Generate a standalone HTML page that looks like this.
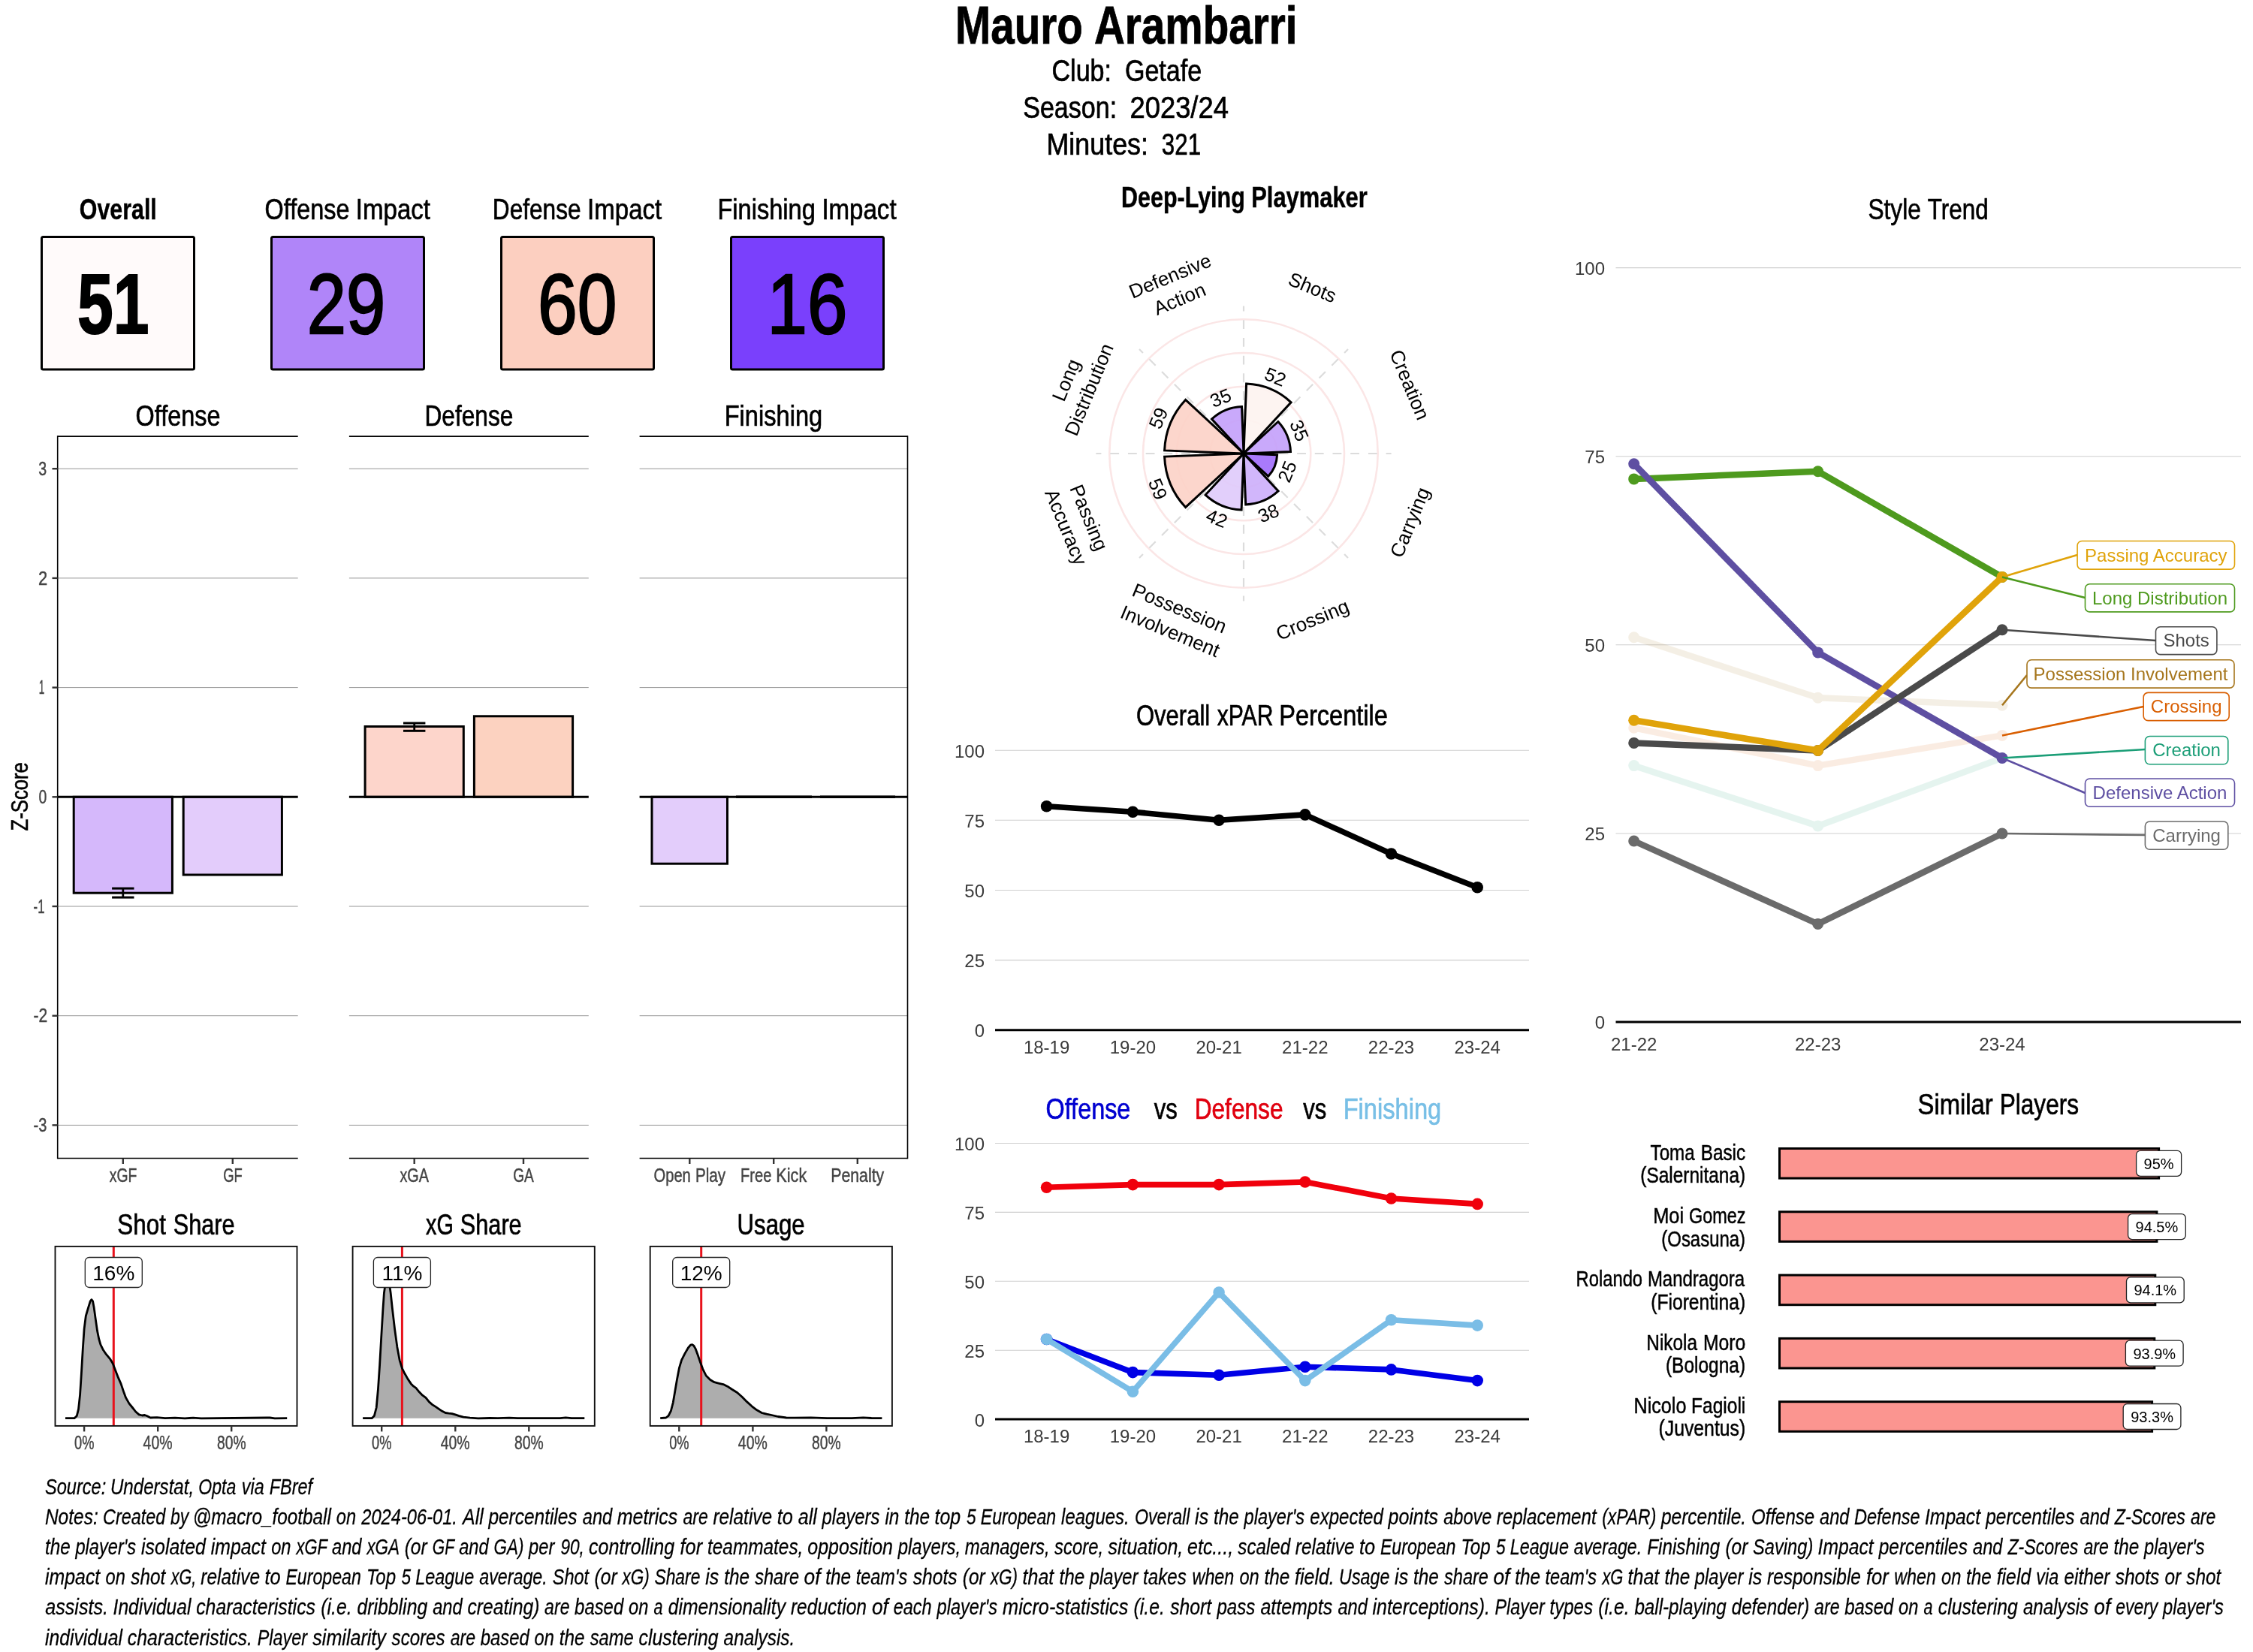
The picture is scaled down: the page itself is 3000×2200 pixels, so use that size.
<!DOCTYPE html><html><head><meta charset="utf-8"><title>Mauro Arambarri</title>
<style>html,body{margin:0;padding:0;background:#fff}svg{display:block;will-change:transform}text{font-family:"Liberation Sans",sans-serif}</style></head><body>
<svg width="3000" height="2200" viewBox="0 0 3000 2200" font-family="Liberation Sans, sans-serif">
<rect width="3000" height="2200" fill="#fff"/>
<text y="58.4" font-size="69.89" fill="#000" font-weight="bold" stroke="#000" stroke-width="0.81" ><tspan x="1272.0" textLength="169.9" lengthAdjust="spacingAndGlyphs">Mauro</tspan> <tspan x="1456.9" textLength="270.6" lengthAdjust="spacingAndGlyphs">Arambarri</tspan></text>
<text y="107.8" font-size="41.08" fill="#000" stroke="#000" stroke-width="0.71" ><tspan x="1400.5" textLength="79.5" lengthAdjust="spacingAndGlyphs">Club:</tspan> <tspan x="1497.9" textLength="102.3" lengthAdjust="spacingAndGlyphs">Getafe</tspan></text>
<text y="156.5" font-size="41.08" fill="#000" stroke="#000" stroke-width="0.71" ><tspan x="1362.2" textLength="124.9" lengthAdjust="spacingAndGlyphs">Season:</tspan> <tspan x="1504.4" textLength="131.6" lengthAdjust="spacingAndGlyphs">2023/24</tspan></text>
<text y="206.0" font-size="41.08" fill="#000" stroke="#000" stroke-width="0.71" ><tspan x="1393.5" textLength="135.5" lengthAdjust="spacingAndGlyphs">Minutes:</tspan> <tspan x="1546.8" textLength="52.3" lengthAdjust="spacingAndGlyphs">321</tspan></text>
<text y="292.0" font-size="38.14" fill="#000" font-weight="bold" stroke="#000" stroke-width="0.44" ><tspan x="105.8" textLength="103.0" lengthAdjust="spacingAndGlyphs">Overall</tspan></text>
<rect x="55.5" y="315.5" width="203.0" height="176.5" fill="#fffafa" stroke="#000" stroke-width="3" rx="2" stroke-linejoin="round"/>
<text x="103.1" y="443.6" font-size="113.50" fill="#000" textLength="95.5" lengthAdjust="spacingAndGlyphs" font-weight="bold"  stroke="#000" stroke-width="2.0">51</text>
<text y="292.0" font-size="38.14" fill="#000" stroke="#000" stroke-width="0.66" ><tspan x="352.6" textLength="112.9" lengthAdjust="spacingAndGlyphs">Offense</tspan> <tspan x="473.8" textLength="99.2" lengthAdjust="spacingAndGlyphs">Impact</tspan></text>
<rect x="361.5" y="315.5" width="203.0" height="176.5" fill="#b085f9" stroke="#000" stroke-width="3" rx="2" stroke-linejoin="round"/>
<text x="408.8" y="443.6" font-size="113.50" fill="#000" textLength="104.4" lengthAdjust="spacingAndGlyphs"  stroke="#000" stroke-width="2.4">29</text>
<text y="292.0" font-size="38.14" fill="#000" stroke="#000" stroke-width="0.66" ><tspan x="655.8" textLength="117.8" lengthAdjust="spacingAndGlyphs">Defense</tspan> <tspan x="782.1" textLength="99.2" lengthAdjust="spacingAndGlyphs">Impact</tspan></text>
<rect x="667.5" y="315.5" width="203.0" height="176.5" fill="#fccfc0" stroke="#000" stroke-width="3" rx="2" stroke-linejoin="round"/>
<text x="716.1" y="443.6" font-size="113.50" fill="#000" textLength="105.4" lengthAdjust="spacingAndGlyphs"  stroke="#000" stroke-width="2.4">60</text>
<text y="292.0" font-size="38.14" fill="#000" stroke="#000" stroke-width="0.66" ><tspan x="955.4" textLength="130.5" lengthAdjust="spacingAndGlyphs">Finishing</tspan> <tspan x="1094.4" textLength="99.2" lengthAdjust="spacingAndGlyphs">Impact</tspan></text>
<rect x="973.5" y="315.5" width="203.0" height="176.5" fill="#7a40fc" stroke="#000" stroke-width="3" rx="2" stroke-linejoin="round"/>
<text x="1021.5" y="443.6" font-size="113.50" fill="#000" textLength="106.8" lengthAdjust="spacingAndGlyphs"  stroke="#000" stroke-width="2.4">16</text>
<text y="567.0" font-size="38.14" fill="#000" stroke="#000" stroke-width="0.66" ><tspan x="180.6" textLength="112.9" lengthAdjust="spacingAndGlyphs">Offense</tspan></text>
<line x1="76.7" y1="624.2" x2="396.7" y2="624.2" stroke="#969696" stroke-width="1.0" />
<line x1="76.7" y1="769.9" x2="396.7" y2="769.9" stroke="#969696" stroke-width="1.0" />
<line x1="76.7" y1="915.6" x2="396.7" y2="915.6" stroke="#969696" stroke-width="1.0" />
<line x1="76.7" y1="1207.0" x2="396.7" y2="1207.0" stroke="#969696" stroke-width="1.0" />
<line x1="76.7" y1="1352.7" x2="396.7" y2="1352.7" stroke="#969696" stroke-width="1.0" />
<line x1="76.7" y1="1498.4" x2="396.7" y2="1498.4" stroke="#969696" stroke-width="1.0" />
<line x1="76.7" y1="581.1" x2="396.7" y2="581.1" stroke="#000" stroke-width="1.6" />
<line x1="76.7" y1="1542.5" x2="396.7" y2="1542.5" stroke="#000" stroke-width="1.6" />
<text y="567.0" font-size="38.14" fill="#000" stroke="#000" stroke-width="0.66" ><tspan x="565.5" textLength="117.8" lengthAdjust="spacingAndGlyphs">Defense</tspan></text>
<line x1="464.9" y1="624.2" x2="783.8" y2="624.2" stroke="#969696" stroke-width="1.0" />
<line x1="464.9" y1="769.9" x2="783.8" y2="769.9" stroke="#969696" stroke-width="1.0" />
<line x1="464.9" y1="915.6" x2="783.8" y2="915.6" stroke="#969696" stroke-width="1.0" />
<line x1="464.9" y1="1207.0" x2="783.8" y2="1207.0" stroke="#969696" stroke-width="1.0" />
<line x1="464.9" y1="1352.7" x2="783.8" y2="1352.7" stroke="#969696" stroke-width="1.0" />
<line x1="464.9" y1="1498.4" x2="783.8" y2="1498.4" stroke="#969696" stroke-width="1.0" />
<line x1="464.9" y1="581.1" x2="783.8" y2="581.1" stroke="#000" stroke-width="1.6" />
<line x1="464.9" y1="1542.5" x2="783.8" y2="1542.5" stroke="#000" stroke-width="1.6" />
<text y="567.0" font-size="38.14" fill="#000" stroke="#000" stroke-width="0.66" ><tspan x="964.7" textLength="130.5" lengthAdjust="spacingAndGlyphs">Finishing</tspan></text>
<line x1="851.6" y1="624.2" x2="1208.5" y2="624.2" stroke="#969696" stroke-width="1.0" />
<line x1="851.6" y1="769.9" x2="1208.5" y2="769.9" stroke="#969696" stroke-width="1.0" />
<line x1="851.6" y1="915.6" x2="1208.5" y2="915.6" stroke="#969696" stroke-width="1.0" />
<line x1="851.6" y1="1207.0" x2="1208.5" y2="1207.0" stroke="#969696" stroke-width="1.0" />
<line x1="851.6" y1="1352.7" x2="1208.5" y2="1352.7" stroke="#969696" stroke-width="1.0" />
<line x1="851.6" y1="1498.4" x2="1208.5" y2="1498.4" stroke="#969696" stroke-width="1.0" />
<line x1="851.6" y1="581.1" x2="1208.5" y2="581.1" stroke="#000" stroke-width="1.6" />
<line x1="851.6" y1="1542.5" x2="1208.5" y2="1542.5" stroke="#000" stroke-width="1.6" />
<line x1="76.7" y1="580.3" x2="76.7" y2="1543.3" stroke="#000" stroke-width="1.6" />
<line x1="1208.5" y1="580.3" x2="1208.5" y2="1543.3" stroke="#000" stroke-width="1.6" />
<line x1="69.5" y1="624.2" x2="76.7" y2="624.2" stroke="#333" stroke-width="2.4" />
<text y="632.8" font-size="25.48" fill="#444444" stroke="#444444" stroke-width="0.44" ><tspan x="51.3" textLength="10.9" lengthAdjust="spacingAndGlyphs">3</tspan></text>
<line x1="69.5" y1="769.9" x2="76.7" y2="769.9" stroke="#333" stroke-width="2.4" />
<text y="778.5" font-size="25.48" fill="#444444" stroke="#444444" stroke-width="0.44" ><tspan x="51.0" textLength="12.2" lengthAdjust="spacingAndGlyphs">2</tspan></text>
<line x1="69.5" y1="915.6" x2="76.7" y2="915.6" stroke="#333" stroke-width="2.4" />
<text y="924.2" font-size="25.48" fill="#444444" stroke="#444444" stroke-width="0.44" ><tspan x="51.8" textLength="7.5" lengthAdjust="spacingAndGlyphs">1</tspan></text>
<line x1="69.5" y1="1061.3" x2="76.7" y2="1061.3" stroke="#333" stroke-width="2.4" />
<text y="1069.9" font-size="25.48" fill="#444444" stroke="#444444" stroke-width="0.44" ><tspan x="51.5" textLength="10.8" lengthAdjust="spacingAndGlyphs">0</tspan></text>
<line x1="69.5" y1="1207.0" x2="76.7" y2="1207.0" stroke="#333" stroke-width="2.4" />
<text y="1215.6" font-size="25.48" fill="#444444" stroke="#444444" stroke-width="0.44" ><tspan x="44.6" textLength="14.8" lengthAdjust="spacingAndGlyphs">-1</tspan></text>
<line x1="69.5" y1="1352.7" x2="76.7" y2="1352.7" stroke="#333" stroke-width="2.4" />
<text y="1361.3" font-size="25.48" fill="#444444" stroke="#444444" stroke-width="0.44" ><tspan x="44.4" textLength="18.7" lengthAdjust="spacingAndGlyphs">-2</tspan></text>
<line x1="69.5" y1="1498.4" x2="76.7" y2="1498.4" stroke="#333" stroke-width="2.4" />
<text y="1507.0" font-size="25.48" fill="#444444" stroke="#444444" stroke-width="0.44" ><tspan x="44.5" textLength="17.8" lengthAdjust="spacingAndGlyphs">-3</tspan></text>
<text y="1061.0" font-size="31.72" fill="#000" stroke="#000" stroke-width="0.55" transform="rotate(-90 37.0 1061.0)" ><tspan x="-8.5" textLength="91.4" lengthAdjust="spacingAndGlyphs">Z-Score</tspan></text>
<rect x="98.2" y="1061.3" width="131.2" height="127.9" fill="#d5b8fb" stroke="#000" stroke-width="3" rx="0" stroke-linejoin="miter"/>
<rect x="244.2" y="1061.3" width="131.2" height="103.7" fill="#e3ccfb" stroke="#000" stroke-width="3" rx="0" stroke-linejoin="miter"/>
<rect x="486.1" y="967.5" width="131.2" height="93.8" fill="#fdd5cb" stroke="#000" stroke-width="3" rx="0" stroke-linejoin="miter"/>
<rect x="631.4" y="953.8" width="131.2" height="107.5" fill="#fcd2c0" stroke="#000" stroke-width="3" rx="0" stroke-linejoin="miter"/>
<rect x="868.0" y="1061.3" width="100.5" height="88.9" fill="#e3cdfb" stroke="#000" stroke-width="3" rx="0" stroke-linejoin="miter"/>
<line x1="980.0" y1="1061.3" x2="1081.0" y2="1061.3" stroke="#000" stroke-width="3.4" />
<line x1="1092.0" y1="1061.3" x2="1192.0" y2="1061.3" stroke="#000" stroke-width="3.4" />
<line x1="76.7" y1="1061.3" x2="396.7" y2="1061.3" stroke="#000" stroke-width="3" />
<line x1="464.9" y1="1061.3" x2="783.8" y2="1061.3" stroke="#000" stroke-width="3" />
<line x1="851.6" y1="1061.3" x2="1208.5" y2="1061.3" stroke="#000" stroke-width="3" />
<line x1="163.8" y1="1195.1" x2="163.8" y2="1183.1" stroke="#000" stroke-width="2.8" />
<line x1="149.1" y1="1195.1" x2="178.5" y2="1195.1" stroke="#000" stroke-width="3" />
<line x1="149.1" y1="1183.1" x2="178.5" y2="1183.1" stroke="#000" stroke-width="3" />
<line x1="551.7" y1="973.3" x2="551.7" y2="963.0" stroke="#000" stroke-width="2.8" />
<line x1="537.0" y1="973.3" x2="566.4" y2="973.3" stroke="#000" stroke-width="3" />
<line x1="537.0" y1="963.0" x2="566.4" y2="963.0" stroke="#000" stroke-width="3" />
<line x1="163.8" y1="1542.5" x2="163.8" y2="1550.0" stroke="#333" stroke-width="2.4" />
<text y="1573.9" font-size="25.48" fill="#444444" stroke="#444444" stroke-width="0.44" ><tspan x="145.7" textLength="36.6" lengthAdjust="spacingAndGlyphs">xGF</tspan></text>
<line x1="309.8" y1="1542.5" x2="309.8" y2="1550.0" stroke="#333" stroke-width="2.4" />
<text y="1573.9" font-size="25.48" fill="#444444" stroke="#444444" stroke-width="0.44" ><tspan x="297.2" textLength="25.6" lengthAdjust="spacingAndGlyphs">GF</tspan></text>
<line x1="551.7" y1="1542.5" x2="551.7" y2="1550.0" stroke="#333" stroke-width="2.4" />
<text y="1573.9" font-size="25.48" fill="#444444" stroke="#444444" stroke-width="0.44" ><tspan x="532.4" textLength="38.5" lengthAdjust="spacingAndGlyphs">xGA</tspan></text>
<line x1="697.0" y1="1542.5" x2="697.0" y2="1550.0" stroke="#333" stroke-width="2.4" />
<text y="1573.9" font-size="25.48" fill="#444444" stroke="#444444" stroke-width="0.44" ><tspan x="683.2" textLength="27.6" lengthAdjust="spacingAndGlyphs">GA</tspan></text>
<line x1="918.3" y1="1542.5" x2="918.3" y2="1550.0" stroke="#333" stroke-width="2.4" />
<text y="1573.9" font-size="25.48" fill="#444444" stroke="#444444" stroke-width="0.44" ><tspan x="870.5" textLength="49.3" lengthAdjust="spacingAndGlyphs">Open</tspan> <tspan x="925.9" textLength="40.3" lengthAdjust="spacingAndGlyphs">Play</tspan></text>
<line x1="1030.2" y1="1542.5" x2="1030.2" y2="1550.0" stroke="#333" stroke-width="2.4" />
<text y="1573.9" font-size="25.48" fill="#444444" stroke="#444444" stroke-width="0.44" ><tspan x="986.1" textLength="41.3" lengthAdjust="spacingAndGlyphs">Free</tspan> <tspan x="1033.3" textLength="41.0" lengthAdjust="spacingAndGlyphs">Kick</tspan></text>
<line x1="1141.8" y1="1542.5" x2="1141.8" y2="1550.0" stroke="#333" stroke-width="2.4" />
<text y="1573.9" font-size="25.48" fill="#444444" stroke="#444444" stroke-width="0.44" ><tspan x="1106.2" textLength="71.0" lengthAdjust="spacingAndGlyphs">Penalty</tspan></text>
<path d="M87.0,1888.7 L99.0,1888.7 L102.3,1885.4 L104.5,1876.7 L106.6,1857.1 L108.4,1828.8 L110.3,1796.1 L112.1,1769.9 L114.3,1752.5 L117.5,1741.6 L120.2,1732.9 L121.9,1730.7 L123.6,1732.9 L125.2,1741.6 L127.3,1756.9 L129.5,1772.1 L131.7,1783.0 L133.9,1790.6 L137.1,1797.2 L141.5,1803.7 L146.9,1810.2 L150.2,1815.7 L153.5,1824.4 L156.8,1833.1 L161.1,1842.9 L164.4,1852.7 L167.6,1861.4 L172.0,1869.1 L176.4,1874.5 L180.7,1880.0 L185.1,1883.9 L189.4,1885.0 L192.7,1884.5 L196.0,1885.8 L200.3,1888.0 L209.0,1887.6 L219.9,1888.7 L233.0,1888.2 L246.1,1888.9 L257.0,1888.2 L267.9,1888.9 L355.0,1888.0 L359.4,1888.0 L365.9,1888.9 L382.2,1888.7 L382.2,1888.7 L87.0,1888.7 Z" fill="#adadad" stroke="none"/>
<line x1="151.3" y1="1659.9" x2="151.3" y2="1898.9" stroke="#e8121c" stroke-width="3" />
<polyline points="87.0,1888.7 99.0,1888.7 102.3,1885.4 104.5,1876.7 106.6,1857.1 108.4,1828.8 110.3,1796.1 112.1,1769.9 114.3,1752.5 117.5,1741.6 120.2,1732.9 121.9,1730.7 123.6,1732.9 125.2,1741.6 127.3,1756.9 129.5,1772.1 131.7,1783.0 133.9,1790.6 137.1,1797.2 141.5,1803.7 146.9,1810.2 150.2,1815.7 153.5,1824.4 156.8,1833.1 161.1,1842.9 164.4,1852.7 167.6,1861.4 172.0,1869.1 176.4,1874.5 180.7,1880.0 185.1,1883.9 189.4,1885.0 192.7,1884.5 196.0,1885.8 200.3,1888.0 209.0,1887.6 219.9,1888.7 233.0,1888.2 246.1,1888.9 257.0,1888.2 267.9,1888.9 355.0,1888.0 359.4,1888.0 365.9,1888.9 382.2,1888.7" fill="none" stroke="#000" stroke-width="2.8" stroke-linejoin="round" stroke-linecap="butt" stroke-linecap="round"/>
<rect x="73.5" y="1659.9" width="322.0" height="239.0" fill="none" stroke="#111" stroke-width="1.9" rx="0" />
<text y="1644.2" font-size="38.14" fill="#000" stroke="#000" stroke-width="0.66" ><tspan x="156.3" textLength="64.6" lengthAdjust="spacingAndGlyphs">Shot</tspan> <tspan x="230.7" textLength="81.9" lengthAdjust="spacingAndGlyphs">Share</tspan></text>
<line x1="112.1" y1="1898.9" x2="112.1" y2="1906.4" stroke="#333" stroke-width="2.4" />
<text y="1930.0" font-size="25.48" fill="#444444" stroke="#444444" stroke-width="0.44" ><tspan x="99.0" textLength="26.4" lengthAdjust="spacingAndGlyphs">0%</tspan></text>
<line x1="210.2" y1="1898.9" x2="210.2" y2="1906.4" stroke="#333" stroke-width="2.4" />
<text y="1930.0" font-size="25.48" fill="#444444" stroke="#444444" stroke-width="0.44" ><tspan x="190.6" textLength="39.0" lengthAdjust="spacingAndGlyphs">40%</tspan></text>
<line x1="308.2" y1="1898.9" x2="308.2" y2="1906.4" stroke="#333" stroke-width="2.4" />
<text y="1930.0" font-size="25.48" fill="#444444" stroke="#444444" stroke-width="0.44" ><tspan x="288.9" textLength="38.7" lengthAdjust="spacingAndGlyphs">80%</tspan></text>
<rect x="113.3" y="1674.5" width="76.0" height="40.0" fill="#fff" stroke="#222" stroke-width="1.3" rx="5.5" />
<text x="151.3" y="1705.2" font-size="28.00" text-anchor="middle" fill="#000" >16%</text>
<path d="M483.1,1888.7 L495.1,1888.7 L498.4,1885.4 L501.2,1874.5 L503.4,1850.5 L505.6,1817.9 L507.7,1780.8 L509.9,1743.8 L511.4,1722.0 L513.4,1707.8 L515.8,1702.4 L518.2,1707.8 L520.2,1722.0 L522.3,1741.6 L525.6,1769.9 L528.9,1793.9 L532.1,1811.3 L535.4,1822.2 L538.7,1828.8 L543.0,1836.4 L547.4,1842.9 L550.7,1846.2 L553.9,1848.4 L558.3,1853.8 L562.6,1858.2 L567.0,1861.4 L571.4,1866.9 L575.7,1870.6 L580.1,1873.4 L584.4,1876.3 L588.8,1879.3 L593.1,1881.5 L597.5,1882.1 L601.9,1882.6 L606.2,1883.9 L610.6,1885.4 L617.1,1887.1 L625.8,1888.2 L636.7,1888.9 L652.0,1888.5 L662.9,1888.7 L678.1,1888.2 L689.0,1888.7 L745.7,1888.7 L753.3,1887.8 L760.9,1888.7 L778.3,1888.7 L778.3,1888.7 L483.1,1888.7 Z" fill="#adadad" stroke="none"/>
<line x1="535.4" y1="1659.9" x2="535.4" y2="1898.9" stroke="#e8121c" stroke-width="3" />
<polyline points="483.1,1888.7 495.1,1888.7 498.4,1885.4 501.2,1874.5 503.4,1850.5 505.6,1817.9 507.7,1780.8 509.9,1743.8 511.4,1722.0 513.4,1707.8 515.8,1702.4 518.2,1707.8 520.2,1722.0 522.3,1741.6 525.6,1769.9 528.9,1793.9 532.1,1811.3 535.4,1822.2 538.7,1828.8 543.0,1836.4 547.4,1842.9 550.7,1846.2 553.9,1848.4 558.3,1853.8 562.6,1858.2 567.0,1861.4 571.4,1866.9 575.7,1870.6 580.1,1873.4 584.4,1876.3 588.8,1879.3 593.1,1881.5 597.5,1882.1 601.9,1882.6 606.2,1883.9 610.6,1885.4 617.1,1887.1 625.8,1888.2 636.7,1888.9 652.0,1888.5 662.9,1888.7 678.1,1888.2 689.0,1888.7 745.7,1888.7 753.3,1887.8 760.9,1888.7 778.3,1888.7" fill="none" stroke="#000" stroke-width="2.8" stroke-linejoin="round" stroke-linecap="butt" stroke-linecap="round"/>
<rect x="469.6" y="1659.9" width="322.2" height="239.0" fill="none" stroke="#111" stroke-width="1.9" rx="0" />
<text y="1644.2" font-size="38.14" fill="#000" stroke="#000" stroke-width="0.66" ><tspan x="567.1" textLength="36.8" lengthAdjust="spacingAndGlyphs">xG</tspan> <tspan x="612.8" textLength="81.9" lengthAdjust="spacingAndGlyphs">Share</tspan></text>
<line x1="508.2" y1="1898.9" x2="508.2" y2="1906.4" stroke="#333" stroke-width="2.4" />
<text y="1930.0" font-size="25.48" fill="#444444" stroke="#444444" stroke-width="0.44" ><tspan x="495.1" textLength="26.4" lengthAdjust="spacingAndGlyphs">0%</tspan></text>
<line x1="606.3" y1="1898.9" x2="606.3" y2="1906.4" stroke="#333" stroke-width="2.4" />
<text y="1930.0" font-size="25.48" fill="#444444" stroke="#444444" stroke-width="0.44" ><tspan x="586.7" textLength="39.0" lengthAdjust="spacingAndGlyphs">40%</tspan></text>
<line x1="704.3" y1="1898.9" x2="704.3" y2="1906.4" stroke="#333" stroke-width="2.4" />
<text y="1930.0" font-size="25.48" fill="#444444" stroke="#444444" stroke-width="0.44" ><tspan x="685.0" textLength="38.7" lengthAdjust="spacingAndGlyphs">80%</tspan></text>
<rect x="497.4" y="1674.5" width="76.0" height="40.0" fill="#fff" stroke="#222" stroke-width="1.3" rx="5.5" />
<text x="535.4" y="1705.2" font-size="28.00" text-anchor="middle" fill="#000" >11%</text>
<path d="M879.2,1888.7 L886.8,1888.0 L890.1,1885.4 L893.4,1878.9 L896.2,1868.0 L898.8,1852.7 L901.4,1837.5 L904.3,1822.2 L907.5,1811.3 L911.9,1802.6 L916.3,1795.0 L919.5,1791.1 L921.7,1790.6 L923.9,1792.2 L926.1,1796.1 L929.3,1804.8 L932.6,1814.6 L935.9,1823.3 L940.2,1832.0 L945.7,1837.5 L951.1,1840.7 L957.6,1842.3 L963.1,1843.6 L968.5,1846.2 L975.1,1850.5 L981.6,1854.5 L988.1,1860.3 L994.7,1866.9 L1001.2,1872.8 L1007.8,1877.8 L1014.3,1881.5 L1020.8,1883.2 L1027.4,1884.5 L1036.1,1886.5 L1047.0,1888.0 L1057.9,1888.2 L1079.7,1887.8 L1101.4,1888.7 L1134.1,1888.7 L1149.4,1887.8 L1160.3,1888.5 L1174.4,1888.7 L1174.4,1888.7 L879.2,1888.7 Z" fill="#adadad" stroke="none"/>
<line x1="933.7" y1="1659.9" x2="933.7" y2="1898.9" stroke="#e8121c" stroke-width="3" />
<polyline points="879.2,1888.7 886.8,1888.0 890.1,1885.4 893.4,1878.9 896.2,1868.0 898.8,1852.7 901.4,1837.5 904.3,1822.2 907.5,1811.3 911.9,1802.6 916.3,1795.0 919.5,1791.1 921.7,1790.6 923.9,1792.2 926.1,1796.1 929.3,1804.8 932.6,1814.6 935.9,1823.3 940.2,1832.0 945.7,1837.5 951.1,1840.7 957.6,1842.3 963.1,1843.6 968.5,1846.2 975.1,1850.5 981.6,1854.5 988.1,1860.3 994.7,1866.9 1001.2,1872.8 1007.8,1877.8 1014.3,1881.5 1020.8,1883.2 1027.4,1884.5 1036.1,1886.5 1047.0,1888.0 1057.9,1888.2 1079.7,1887.8 1101.4,1888.7 1134.1,1888.7 1149.4,1887.8 1160.3,1888.5 1174.4,1888.7" fill="none" stroke="#000" stroke-width="2.8" stroke-linejoin="round" stroke-linecap="butt" stroke-linecap="round"/>
<rect x="865.7" y="1659.9" width="322.2" height="239.0" fill="none" stroke="#111" stroke-width="1.9" rx="0" />
<text y="1644.2" font-size="38.14" fill="#000" stroke="#000" stroke-width="0.66" ><tspan x="981.6" textLength="90.1" lengthAdjust="spacingAndGlyphs">Usage</tspan></text>
<line x1="904.3" y1="1898.9" x2="904.3" y2="1906.4" stroke="#333" stroke-width="2.4" />
<text y="1930.0" font-size="25.48" fill="#444444" stroke="#444444" stroke-width="0.44" ><tspan x="891.2" textLength="26.4" lengthAdjust="spacingAndGlyphs">0%</tspan></text>
<line x1="1002.4" y1="1898.9" x2="1002.4" y2="1906.4" stroke="#333" stroke-width="2.4" />
<text y="1930.0" font-size="25.48" fill="#444444" stroke="#444444" stroke-width="0.44" ><tspan x="982.8" textLength="39.0" lengthAdjust="spacingAndGlyphs">40%</tspan></text>
<line x1="1100.4" y1="1898.9" x2="1100.4" y2="1906.4" stroke="#333" stroke-width="2.4" />
<text y="1930.0" font-size="25.48" fill="#444444" stroke="#444444" stroke-width="0.44" ><tspan x="1081.1" textLength="38.7" lengthAdjust="spacingAndGlyphs">80%</tspan></text>
<rect x="895.7" y="1674.5" width="76.0" height="40.0" fill="#fff" stroke="#222" stroke-width="1.3" rx="5.5" />
<text x="933.7" y="1705.2" font-size="28.00" text-anchor="middle" fill="#000" >12%</text>
<text y="275.6" font-size="38.14" fill="#000" font-weight="bold" stroke="#000" stroke-width="0.44" ><tspan x="1493.0" textLength="164.8" lengthAdjust="spacingAndGlyphs">Deep-Lying</tspan> <tspan x="1666.2" textLength="154.6" lengthAdjust="spacingAndGlyphs">Playmaker</tspan></text>
<circle cx="1656" cy="604" r="44.7" fill="none" stroke="#fbe6e6" stroke-width="2.6"/>
<circle cx="1656" cy="604" r="89.3" fill="none" stroke="#fbe6e6" stroke-width="2.6"/>
<circle cx="1656" cy="604" r="134.0" fill="none" stroke="#fbe6e6" stroke-width="2.6"/>
<circle cx="1656" cy="604" r="178.7" fill="none" stroke="#fbe6e6" stroke-width="2.6"/>
<line x1="1656.0" y1="604.0" x2="1656.0" y2="407.4" stroke="#dcdcdc" stroke-width="2.2" stroke-dasharray="11.85 11.85"/>
<line x1="1656.0" y1="604.0" x2="1795.0" y2="465.0" stroke="#dcdcdc" stroke-width="2.2" stroke-dasharray="11.85 11.85"/>
<line x1="1656.0" y1="604.0" x2="1852.6" y2="604.0" stroke="#dcdcdc" stroke-width="2.2" stroke-dasharray="11.85 11.85"/>
<line x1="1656.0" y1="604.0" x2="1795.0" y2="743.0" stroke="#dcdcdc" stroke-width="2.2" stroke-dasharray="11.85 11.85"/>
<line x1="1656.0" y1="604.0" x2="1656.0" y2="800.6" stroke="#dcdcdc" stroke-width="2.2" stroke-dasharray="11.85 11.85"/>
<line x1="1656.0" y1="604.0" x2="1517.0" y2="743.0" stroke="#dcdcdc" stroke-width="2.2" stroke-dasharray="11.85 11.85"/>
<line x1="1656.0" y1="604.0" x2="1459.4" y2="604.0" stroke="#dcdcdc" stroke-width="2.2" stroke-dasharray="11.85 11.85"/>
<line x1="1656.0" y1="604.0" x2="1517.0" y2="465.0" stroke="#dcdcdc" stroke-width="2.2" stroke-dasharray="11.85 11.85"/>
<path d="M1656,604 L1659.6,511.1 A92.9,92.9 0 0 1 1719.1,535.8 Z" fill="#fdf3f0" fill-opacity="0.92" stroke="#000" stroke-width="3" stroke-linejoin="miter" stroke-miterlimit="10"/>
<path d="M1656,604 L1701.9,561.5 A62.5,62.5 0 0 1 1718.5,601.5 Z" fill="#c4a2fb" fill-opacity="0.92" stroke="#000" stroke-width="3" stroke-linejoin="miter" stroke-miterlimit="10"/>
<path d="M1656,604 L1700.6,605.8 A44.7,44.7 0 0 1 1688.8,634.3 Z" fill="#a26ffb" fill-opacity="0.92" stroke="#000" stroke-width="3" stroke-linejoin="miter" stroke-miterlimit="10"/>
<path d="M1656,604 L1702.1,653.9 A67.9,67.9 0 0 1 1658.7,671.9 Z" fill="#cdb0fb" fill-opacity="0.92" stroke="#000" stroke-width="3" stroke-linejoin="miter" stroke-miterlimit="10"/>
<path d="M1656,604 L1653.1,679.0 A75.1,75.1 0 0 1 1605.1,659.1 Z" fill="#e0cbfb" fill-opacity="0.92" stroke="#000" stroke-width="3" stroke-linejoin="miter" stroke-miterlimit="10"/>
<path d="M1656,604 L1578.6,675.6 A105.4,105.4 0 0 1 1550.6,608.1 Z" fill="#fcd3c8" fill-opacity="0.92" stroke="#000" stroke-width="3" stroke-linejoin="miter" stroke-miterlimit="10"/>
<path d="M1656,604 L1550.6,599.9 A105.4,105.4 0 0 1 1578.6,532.4 Z" fill="#fcd3c8" fill-opacity="0.92" stroke="#000" stroke-width="3" stroke-linejoin="miter" stroke-miterlimit="10"/>
<path d="M1656,604 L1613.5,558.1 A62.5,62.5 0 0 1 1653.5,541.5 Z" fill="#c4a2fb" fill-opacity="0.92" stroke="#000" stroke-width="3" stroke-linejoin="miter" stroke-miterlimit="10"/>
<text x="1698.4" y="501.6" font-size="25" text-anchor="middle" dominant-baseline="central" transform="rotate(22.5 1698.4 501.6)">52</text>
<text x="1747.6" y="382.8" font-size="26" text-anchor="middle" dominant-baseline="central" transform="rotate(22.5 1747.6 382.8)">Shots</text>
<text x="1730.3" y="573.2" font-size="25" text-anchor="middle" dominant-baseline="central" transform="rotate(67.5 1730.3 573.2)">35</text>
<text x="1877.2" y="512.4" font-size="26" text-anchor="middle" dominant-baseline="central" transform="rotate(67.5 1877.2 512.4)">Creation</text>
<text x="1713.8" y="627.9" font-size="25" text-anchor="middle" dominant-baseline="central" transform="rotate(-67.5 1713.8 627.9)">25</text>
<text x="1877.2" y="695.6" font-size="26" text-anchor="middle" dominant-baseline="central" transform="rotate(-67.5 1877.2 695.6)">Carrying</text>
<text x="1688.8" y="683.2" font-size="25" text-anchor="middle" dominant-baseline="central" transform="rotate(-22.5 1688.8 683.2)">38</text>
<text x="1747.6" y="825.2" font-size="26" text-anchor="middle" dominant-baseline="central" transform="rotate(-22.5 1747.6 825.2)">Crossing</text>
<text x="1620.4" y="689.9" font-size="25" text-anchor="middle" dominant-baseline="central" transform="rotate(22.5 1620.4 689.9)">42</text>
<g transform="rotate(22.5 1564.4 825.2)"><text x="1564.4" y="808.7" font-size="26" text-anchor="middle" dominant-baseline="central">Possession</text><text x="1564.4" y="841.7" font-size="26" text-anchor="middle" dominant-baseline="central">Involvement</text></g>
<text x="1542.1" y="651.2" font-size="25" text-anchor="middle" dominant-baseline="central" transform="rotate(67.5 1542.1 651.2)">59</text>
<g transform="rotate(67.5 1434.8 695.6)"><text x="1434.8" y="679.1" font-size="26" text-anchor="middle" dominant-baseline="central">Passing</text><text x="1434.8" y="712.1" font-size="26" text-anchor="middle" dominant-baseline="central">Accuracy</text></g>
<text x="1542.1" y="556.8" font-size="25" text-anchor="middle" dominant-baseline="central" transform="rotate(-67.5 1542.1 556.8)">59</text>
<g transform="rotate(-67.5 1434.8 512.4)"><text x="1434.8" y="495.9" font-size="26" text-anchor="middle" dominant-baseline="central">Long</text><text x="1434.8" y="528.9" font-size="26" text-anchor="middle" dominant-baseline="central">Distribution</text></g>
<text x="1625.2" y="529.7" font-size="25" text-anchor="middle" dominant-baseline="central" transform="rotate(-22.5 1625.2 529.7)">35</text>
<g transform="rotate(-22.5 1564.4 382.8)"><text x="1564.4" y="366.3" font-size="26" text-anchor="middle" dominant-baseline="central">Defensive</text><text x="1564.4" y="399.3" font-size="26" text-anchor="middle" dominant-baseline="central">Action</text></g>
<text y="965.5" font-size="38.14" fill="#000" stroke="#000" stroke-width="0.66" ><tspan x="1512.9" textLength="98.3" lengthAdjust="spacingAndGlyphs">Overall</tspan> <tspan x="1620.7" textLength="74.8" lengthAdjust="spacingAndGlyphs">xPAR</tspan> <tspan x="1703.2" textLength="144.7" lengthAdjust="spacingAndGlyphs">Percentile</tspan></text>
<line x1="1325.0" y1="1278.6" x2="2036.0" y2="1278.6" stroke="#cfcfcf" stroke-width="1.1" />
<line x1="1325.0" y1="1185.5" x2="2036.0" y2="1185.5" stroke="#cfcfcf" stroke-width="1.1" />
<line x1="1325.0" y1="1092.3" x2="2036.0" y2="1092.3" stroke="#cfcfcf" stroke-width="1.1" />
<line x1="1325.0" y1="999.2" x2="2036.0" y2="999.2" stroke="#cfcfcf" stroke-width="1.1" />
<text x="1311.0" y="1381.2" font-size="24.00" text-anchor="end" fill="#3a3a3a" >0</text>
<text x="1311.0" y="1288.1" font-size="24.00" text-anchor="end" fill="#3a3a3a" >25</text>
<text x="1311.0" y="1195.0" font-size="24.00" text-anchor="end" fill="#3a3a3a" >50</text>
<text x="1311.0" y="1101.8" font-size="24.00" text-anchor="end" fill="#3a3a3a" >75</text>
<text x="1311.0" y="1008.7" font-size="24.00" text-anchor="end" fill="#3a3a3a" >100</text>
<polyline points="1393.6,1073.7 1508.4,1081.2 1623.1,1092.3 1737.8,1084.9 1852.5,1137.0 1967.2,1181.7" fill="none" stroke="#000" stroke-width="7.6" stroke-linejoin="round" stroke-linecap="butt" />
<circle cx="1393.6" cy="1073.7" r="7.8" fill="#000" />
<circle cx="1508.4" cy="1081.2" r="7.8" fill="#000" />
<circle cx="1623.1" cy="1092.3" r="7.8" fill="#000" />
<circle cx="1737.8" cy="1084.9" r="7.8" fill="#000" />
<circle cx="1852.5" cy="1137.0" r="7.8" fill="#000" />
<circle cx="1967.2" cy="1181.7" r="7.8" fill="#000" />
<line x1="1325.0" y1="1371.7" x2="2036.0" y2="1371.7" stroke="#000" stroke-width="3" />
<text x="1393.6" y="1403.0" font-size="24.00" text-anchor="middle" fill="#3a3a3a" >18-19</text>
<text x="1508.4" y="1403.0" font-size="24.00" text-anchor="middle" fill="#3a3a3a" >19-20</text>
<text x="1623.1" y="1403.0" font-size="24.00" text-anchor="middle" fill="#3a3a3a" >20-21</text>
<text x="1737.8" y="1403.0" font-size="24.00" text-anchor="middle" fill="#3a3a3a" >21-22</text>
<text x="1852.5" y="1403.0" font-size="24.00" text-anchor="middle" fill="#3a3a3a" >22-23</text>
<text x="1967.2" y="1403.0" font-size="24.00" text-anchor="middle" fill="#3a3a3a" >23-24</text>
<line x1="1325.0" y1="1798.2" x2="2036.0" y2="1798.2" stroke="#cfcfcf" stroke-width="1.1" />
<line x1="1325.0" y1="1706.3" x2="2036.0" y2="1706.3" stroke="#cfcfcf" stroke-width="1.1" />
<line x1="1325.0" y1="1614.4" x2="2036.0" y2="1614.4" stroke="#cfcfcf" stroke-width="1.1" />
<line x1="1325.0" y1="1522.5" x2="2036.0" y2="1522.5" stroke="#cfcfcf" stroke-width="1.1" />
<text x="1311.0" y="1899.6" font-size="24.00" text-anchor="end" fill="#3a3a3a" >0</text>
<text x="1311.0" y="1807.7" font-size="24.00" text-anchor="end" fill="#3a3a3a" >25</text>
<text x="1311.0" y="1715.8" font-size="24.00" text-anchor="end" fill="#3a3a3a" >50</text>
<text x="1311.0" y="1623.9" font-size="24.00" text-anchor="end" fill="#3a3a3a" >75</text>
<text x="1311.0" y="1532.0" font-size="24.00" text-anchor="end" fill="#3a3a3a" >100</text>
<polyline points="1393.6,1783.5 1508.4,1827.6 1623.1,1831.3 1737.8,1820.3 1852.5,1823.9 1967.2,1838.6" fill="none" stroke="#0000e6" stroke-width="7.6" stroke-linejoin="round" stroke-linecap="butt" />
<circle cx="1393.6" cy="1783.5" r="7.8" fill="#0000e6" />
<circle cx="1508.4" cy="1827.6" r="7.8" fill="#0000e6" />
<circle cx="1623.1" cy="1831.3" r="7.8" fill="#0000e6" />
<circle cx="1737.8" cy="1820.3" r="7.8" fill="#0000e6" />
<circle cx="1852.5" cy="1823.9" r="7.8" fill="#0000e6" />
<circle cx="1967.2" cy="1838.6" r="7.8" fill="#0000e6" />
<polyline points="1393.6,1581.3 1508.4,1577.6 1623.1,1577.6 1737.8,1574.0 1852.5,1596.0 1967.2,1603.4" fill="none" stroke="#f0000c" stroke-width="7.6" stroke-linejoin="round" stroke-linecap="butt" />
<circle cx="1393.6" cy="1581.3" r="7.8" fill="#f0000c" />
<circle cx="1508.4" cy="1577.6" r="7.8" fill="#f0000c" />
<circle cx="1623.1" cy="1577.6" r="7.8" fill="#f0000c" />
<circle cx="1737.8" cy="1574.0" r="7.8" fill="#f0000c" />
<circle cx="1852.5" cy="1596.0" r="7.8" fill="#f0000c" />
<circle cx="1967.2" cy="1603.4" r="7.8" fill="#f0000c" />
<polyline points="1393.6,1783.5 1508.4,1853.3 1623.1,1721.0 1737.8,1838.6 1852.5,1757.8 1967.2,1765.1" fill="none" stroke="#7abde6" stroke-width="7.6" stroke-linejoin="round" stroke-linecap="butt" />
<circle cx="1393.6" cy="1783.5" r="7.8" fill="#7abde6" />
<circle cx="1508.4" cy="1853.3" r="7.8" fill="#7abde6" />
<circle cx="1623.1" cy="1721.0" r="7.8" fill="#7abde6" />
<circle cx="1737.8" cy="1838.6" r="7.8" fill="#7abde6" />
<circle cx="1852.5" cy="1757.8" r="7.8" fill="#7abde6" />
<circle cx="1967.2" cy="1765.1" r="7.8" fill="#7abde6" />
<line x1="1325.0" y1="1890.1" x2="2036.0" y2="1890.1" stroke="#000" stroke-width="3" />
<text x="1393.6" y="1920.5" font-size="24.00" text-anchor="middle" fill="#3a3a3a" >18-19</text>
<text x="1508.4" y="1920.5" font-size="24.00" text-anchor="middle" fill="#3a3a3a" >19-20</text>
<text x="1623.1" y="1920.5" font-size="24.00" text-anchor="middle" fill="#3a3a3a" >20-21</text>
<text x="1737.8" y="1920.5" font-size="24.00" text-anchor="middle" fill="#3a3a3a" >21-22</text>
<text x="1852.5" y="1920.5" font-size="24.00" text-anchor="middle" fill="#3a3a3a" >22-23</text>
<text x="1967.2" y="1920.5" font-size="24.00" text-anchor="middle" fill="#3a3a3a" >23-24</text>
<text y="1490.0" font-size="38.14" fill="#0000d0" stroke="#0000d0" stroke-width="0.66" ><tspan x="1392.5" textLength="112.9" lengthAdjust="spacingAndGlyphs">Offense</tspan></text>
<text y="1490.0" font-size="38.14" fill="#000" stroke="#000" stroke-width="0.66" ><tspan x="1536.7" textLength="31.1" lengthAdjust="spacingAndGlyphs">vs</tspan></text>
<text y="1490.0" font-size="38.14" fill="#e0000f" stroke="#e0000f" stroke-width="0.66" ><tspan x="1590.7" textLength="117.8" lengthAdjust="spacingAndGlyphs">Defense</tspan></text>
<text y="1490.0" font-size="38.14" fill="#000" stroke="#000" stroke-width="0.66" ><tspan x="1735.2" textLength="31.1" lengthAdjust="spacingAndGlyphs">vs</tspan></text>
<text y="1490.0" font-size="38.14" fill="#78bfe6" stroke="#78bfe6" stroke-width="0.66" ><tspan x="1788.7" textLength="130.5" lengthAdjust="spacingAndGlyphs">Finishing</tspan></text>
<text y="291.6" font-size="38.14" fill="#000" stroke="#000" stroke-width="0.66" ><tspan x="2487.4" textLength="70.4" lengthAdjust="spacingAndGlyphs">Style</tspan> <tspan x="2566.8" textLength="80.9" lengthAdjust="spacingAndGlyphs">Trend</tspan></text>
<line x1="2151.5" y1="1110.0" x2="2984.0" y2="1110.0" stroke="#cfcfcf" stroke-width="1.1" />
<line x1="2151.5" y1="858.8" x2="2984.0" y2="858.8" stroke="#cfcfcf" stroke-width="1.1" />
<line x1="2151.5" y1="607.7" x2="2984.0" y2="607.7" stroke="#cfcfcf" stroke-width="1.1" />
<line x1="2151.5" y1="356.6" x2="2984.0" y2="356.6" stroke="#cfcfcf" stroke-width="1.1" />
<text x="2137.0" y="1370.4" font-size="24.00" text-anchor="end" fill="#3a3a3a" >0</text>
<text x="2137.0" y="1119.3" font-size="24.00" text-anchor="end" fill="#3a3a3a" >25</text>
<text x="2137.0" y="868.1" font-size="24.00" text-anchor="end" fill="#3a3a3a" >50</text>
<text x="2137.0" y="617.0" font-size="24.00" text-anchor="end" fill="#3a3a3a" >75</text>
<text x="2137.0" y="365.9" font-size="24.00" text-anchor="end" fill="#3a3a3a" >100</text>
<text x="2175.7" y="1398.5" font-size="24.00" text-anchor="middle" fill="#3a3a3a" >21-22</text>
<text x="2420.7" y="1398.5" font-size="24.00" text-anchor="middle" fill="#3a3a3a" >22-23</text>
<text x="2666.0" y="1398.5" font-size="24.00" text-anchor="middle" fill="#3a3a3a" >23-24</text>
<g opacity="0.11">
<polyline points="2175.7,848.8 2420.7,929.2 2666.0,939.2" fill="none" stroke="#A6761D" stroke-width="8.5" stroke-linejoin="round" stroke-linecap="butt" />
<circle cx="2175.7" cy="848.8" r="7.5" fill="#A6761D" />
<circle cx="2420.7" cy="929.2" r="7.5" fill="#A6761D" />
<circle cx="2666.0" cy="939.2" r="7.5" fill="#A6761D" />
</g>
<g opacity="0.11">
<polyline points="2175.7,969.3 2420.7,1019.6 2666.0,979.4" fill="none" stroke="#D95F02" stroke-width="8.5" stroke-linejoin="round" stroke-linecap="butt" />
<circle cx="2175.7" cy="969.3" r="7.5" fill="#D95F02" />
<circle cx="2420.7" cy="1019.6" r="7.5" fill="#D95F02" />
<circle cx="2666.0" cy="979.4" r="7.5" fill="#D95F02" />
</g>
<g opacity="0.11">
<polyline points="2175.7,1019.6 2420.7,1099.9 2666.0,1009.5" fill="none" stroke="#1B9E77" stroke-width="8.5" stroke-linejoin="round" stroke-linecap="butt" />
<circle cx="2175.7" cy="1019.6" r="7.5" fill="#1B9E77" />
<circle cx="2420.7" cy="1099.9" r="7.5" fill="#1B9E77" />
<circle cx="2666.0" cy="1009.5" r="7.5" fill="#1B9E77" />
</g>
<polyline points="2175.7,1120.0 2420.7,1230.5 2666.0,1110.0" fill="none" stroke="#6b6b6b" stroke-width="8.5" stroke-linejoin="round" stroke-linecap="butt" />
<circle cx="2175.7" cy="1120.0" r="7.5" fill="#6b6b6b" />
<circle cx="2420.7" cy="1230.5" r="7.5" fill="#6b6b6b" />
<circle cx="2666.0" cy="1110.0" r="7.5" fill="#6b6b6b" />
<polyline points="2175.7,637.9 2420.7,627.8 2666.0,768.4" fill="none" stroke="#4E9A1E" stroke-width="8.5" stroke-linejoin="round" stroke-linecap="butt" />
<circle cx="2175.7" cy="637.9" r="7.5" fill="#4E9A1E" />
<circle cx="2420.7" cy="627.8" r="7.5" fill="#4E9A1E" />
<circle cx="2666.0" cy="768.4" r="7.5" fill="#4E9A1E" />
<polyline points="2175.7,617.8 2420.7,868.9 2666.0,1009.5" fill="none" stroke="#5E4FA2" stroke-width="8.5" stroke-linejoin="round" stroke-linecap="butt" />
<circle cx="2175.7" cy="617.8" r="7.5" fill="#5E4FA2" />
<circle cx="2420.7" cy="868.9" r="7.5" fill="#5E4FA2" />
<circle cx="2666.0" cy="1009.5" r="7.5" fill="#5E4FA2" />
<polyline points="2175.7,989.4 2420.7,999.5 2666.0,838.8" fill="none" stroke="#4a4a4a" stroke-width="8.5" stroke-linejoin="round" stroke-linecap="butt" />
<circle cx="2175.7" cy="989.4" r="7.5" fill="#4a4a4a" />
<circle cx="2420.7" cy="999.5" r="7.5" fill="#4a4a4a" />
<circle cx="2666.0" cy="838.8" r="7.5" fill="#4a4a4a" />
<polyline points="2175.7,959.3 2420.7,999.5 2666.0,768.4" fill="none" stroke="#E0A30A" stroke-width="8.5" stroke-linejoin="round" stroke-linecap="butt" />
<circle cx="2175.7" cy="959.3" r="7.5" fill="#E0A30A" />
<circle cx="2420.7" cy="999.5" r="7.5" fill="#E0A30A" />
<circle cx="2666.0" cy="768.4" r="7.5" fill="#E0A30A" />
<line x1="2151.5" y1="1361.1" x2="2984.0" y2="1361.1" stroke="#000" stroke-width="3" />
<line x1="2666.0" y1="768.4" x2="2766.1" y2="739.0" stroke="#E0A30A" stroke-width="2.6" />
<line x1="2666.0" y1="768.4" x2="2776.5" y2="796.0" stroke="#4E9A1E" stroke-width="2.6" />
<line x1="2666.0" y1="838.8" x2="2870.5" y2="853.0" stroke="#4a4a4a" stroke-width="2.6" />
<line x1="2666.0" y1="939.2" x2="2699.0" y2="899.0" stroke="#A6761D" stroke-width="2.6" />
<line x1="2666.0" y1="979.4" x2="2854.2" y2="941.0" stroke="#D95F02" stroke-width="2.6" />
<line x1="2666.0" y1="1009.5" x2="2856.4" y2="998.0" stroke="#1B9E77" stroke-width="2.6" />
<line x1="2666.0" y1="1009.5" x2="2776.5" y2="1056.0" stroke="#5E4FA2" stroke-width="2.6" />
<line x1="2666.0" y1="1110.0" x2="2856.4" y2="1112.0" stroke="#6b6b6b" stroke-width="2.6" />
<rect x="2766.1" y="720.5" width="209.4" height="37.6" fill="#fff" stroke="#E0A30A" stroke-width="1.6" rx="6" />
<text x="2870.8" y="747.8" font-size="24.00" text-anchor="middle" fill="#E0A30A" >Passing Accuracy</text>
<rect x="2776.5" y="777.7" width="199.0" height="37.2" fill="#fff" stroke="#4E9A1E" stroke-width="1.6" rx="6" />
<text x="2876.0" y="804.6" font-size="24.00" text-anchor="middle" fill="#4E9A1E" >Long Distribution</text>
<rect x="2870.5" y="834.7" width="81.4" height="36.9" fill="#fff" stroke="#4a4a4a" stroke-width="1.6" rx="6" />
<text x="2911.2" y="861.3" font-size="24.00" text-anchor="middle" fill="#4a4a4a" >Shots</text>
<rect x="2699.0" y="878.8" width="276.0" height="37.3" fill="#fff" stroke="#A6761D" stroke-width="1.6" rx="6" />
<text x="2837.0" y="905.8" font-size="24.00" text-anchor="middle" fill="#A6761D" >Possession Involvement</text>
<rect x="2854.2" y="922.4" width="114.0" height="37.2" fill="#fff" stroke="#D95F02" stroke-width="1.6" rx="6" />
<text x="2911.2" y="949.3" font-size="24.00" text-anchor="middle" fill="#D95F02" >Crossing</text>
<rect x="2856.4" y="980.5" width="110.4" height="37.2" fill="#fff" stroke="#1B9E77" stroke-width="1.6" rx="6" />
<text x="2911.6" y="1007.4" font-size="24.00" text-anchor="middle" fill="#1B9E77" >Creation</text>
<rect x="2776.5" y="1037.0" width="199.0" height="37.2" fill="#fff" stroke="#5E4FA2" stroke-width="1.6" rx="6" />
<text x="2876.0" y="1063.9" font-size="24.00" text-anchor="middle" fill="#5E4FA2" >Defensive Action</text>
<rect x="2856.4" y="1094.0" width="110.4" height="37.2" fill="#fff" stroke="#6b6b6b" stroke-width="1.6" rx="6" />
<text x="2911.6" y="1120.9" font-size="24.00" text-anchor="middle" fill="#6b6b6b" >Carrying</text>
<text y="1484.0" font-size="38.14" fill="#000" stroke="#000" stroke-width="0.66" ><tspan x="2553.5" textLength="100.3" lengthAdjust="spacingAndGlyphs">Similar</tspan> <tspan x="2662.7" textLength="105.4" lengthAdjust="spacingAndGlyphs">Players</tspan></text>
<rect x="2369.5" y="1529.5" width="505.1" height="39.6" fill="#fb9590" stroke="#000" stroke-width="3" rx="0" />
<text y="1544.7" font-size="28.70" fill="#000" stroke="#000" stroke-width="0.50" ><tspan x="2197.6" textLength="59.1" lengthAdjust="spacingAndGlyphs">Toma</tspan> <tspan x="2264.7" textLength="59.5" lengthAdjust="spacingAndGlyphs">Basic</tspan></text>
<text y="1575.2" font-size="28.70" fill="#000" stroke="#000" stroke-width="0.50" ><tspan x="2184.3" textLength="139.8" lengthAdjust="spacingAndGlyphs">(Salernitana)</tspan></text>
<rect x="2844.6" y="1532.3" width="60.0" height="34.0" fill="#fff" stroke="#222" stroke-width="1.3" rx="5.5" />
<text x="2874.6" y="1556.6" font-size="20.00" text-anchor="middle" fill="#000" >95%</text>
<rect x="2369.5" y="1613.8" width="502.4" height="39.6" fill="#fb9590" stroke="#000" stroke-width="3" rx="0" />
<text y="1629.0" font-size="28.70" fill="#000" stroke="#000" stroke-width="0.50" ><tspan x="2201.2" textLength="40.9" lengthAdjust="spacingAndGlyphs">Moi</tspan> <tspan x="2249.0" textLength="75.6" lengthAdjust="spacingAndGlyphs">Gomez</tspan></text>
<text y="1659.5" font-size="28.70" fill="#000" stroke="#000" stroke-width="0.50" ><tspan x="2212.3" textLength="111.8" lengthAdjust="spacingAndGlyphs">(Osasuna)</tspan></text>
<rect x="2833.6" y="1616.6" width="76.7" height="34.0" fill="#fff" stroke="#222" stroke-width="1.3" rx="5.5" />
<text x="2871.9" y="1640.9" font-size="20.00" text-anchor="middle" fill="#000" >94.5%</text>
<rect x="2369.5" y="1698.1" width="500.3" height="39.6" fill="#fb9590" stroke="#000" stroke-width="3" rx="0" />
<text y="1713.3" font-size="28.70" fill="#000" stroke="#000" stroke-width="0.50" ><tspan x="2098.6" textLength="88.5" lengthAdjust="spacingAndGlyphs">Rolando</tspan> <tspan x="2193.9" textLength="129.2" lengthAdjust="spacingAndGlyphs">Mandragora</tspan></text>
<text y="1743.8" font-size="28.70" fill="#000" stroke="#000" stroke-width="0.50" ><tspan x="2198.2" textLength="126.0" lengthAdjust="spacingAndGlyphs">(Fiorentina)</tspan></text>
<rect x="2831.5" y="1700.9" width="76.7" height="34.0" fill="#fff" stroke="#222" stroke-width="1.3" rx="5.5" />
<text x="2869.8" y="1725.2" font-size="20.00" text-anchor="middle" fill="#000" >94.1%</text>
<rect x="2369.5" y="1782.4" width="499.3" height="39.6" fill="#fb9590" stroke="#000" stroke-width="3" rx="0" />
<text y="1797.6" font-size="28.70" fill="#000" stroke="#000" stroke-width="0.50" ><tspan x="2192.3" textLength="67.7" lengthAdjust="spacingAndGlyphs">Nikola</tspan> <tspan x="2267.9" textLength="56.3" lengthAdjust="spacingAndGlyphs">Moro</tspan></text>
<text y="1828.1" font-size="28.70" fill="#000" stroke="#000" stroke-width="0.50" ><tspan x="2217.9" textLength="106.2" lengthAdjust="spacingAndGlyphs">(Bologna)</tspan></text>
<rect x="2830.4" y="1785.2" width="76.7" height="34.0" fill="#fff" stroke="#222" stroke-width="1.3" rx="5.5" />
<text x="2868.8" y="1809.5" font-size="20.00" text-anchor="middle" fill="#000" >93.9%</text>
<rect x="2369.5" y="1866.7" width="496.1" height="39.6" fill="#fb9590" stroke="#000" stroke-width="3" rx="0" />
<text y="1881.9" font-size="28.70" fill="#000" stroke="#000" stroke-width="0.50" ><tspan x="2175.5" textLength="69.9" lengthAdjust="spacingAndGlyphs">Nicolo</tspan> <tspan x="2252.1" textLength="72.2" lengthAdjust="spacingAndGlyphs">Fagioli</tspan></text>
<text y="1912.4" font-size="28.70" fill="#000" stroke="#000" stroke-width="0.50" ><tspan x="2208.5" textLength="115.7" lengthAdjust="spacingAndGlyphs">(Juventus)</tspan></text>
<rect x="2827.2" y="1869.5" width="76.7" height="34.0" fill="#fff" stroke="#222" stroke-width="1.3" rx="5.5" />
<text x="2865.6" y="1893.8" font-size="20.00" text-anchor="middle" fill="#000" >93.3%</text>
<text y="1990.0" font-size="29.25" fill="#000" font-style="italic" stroke="#000" stroke-width="0.28" ><tspan x="60.0" textLength="81.3" lengthAdjust="spacingAndGlyphs">Source:</tspan> <tspan x="146.9" textLength="111.3" lengthAdjust="spacingAndGlyphs">Understat,</tspan> <tspan x="264.3" textLength="49.9" lengthAdjust="spacingAndGlyphs">Opta</tspan> <tspan x="321.8" textLength="29.9" lengthAdjust="spacingAndGlyphs">via</tspan> <tspan x="358.7" textLength="57.4" lengthAdjust="spacingAndGlyphs">FBref</tspan></text>
<text y="2030.1" font-size="29.25" fill="#000" font-style="italic" stroke="#000" stroke-width="0.28" ><tspan x="59.9" textLength="70.8" lengthAdjust="spacingAndGlyphs">Notes:</tspan> <tspan x="137.1" textLength="83.3" lengthAdjust="spacingAndGlyphs">Created</tspan> <tspan x="227.0" textLength="24.2" lengthAdjust="spacingAndGlyphs">by</tspan> <tspan x="256.7" textLength="184.1" lengthAdjust="spacingAndGlyphs">@macro_football</tspan> <tspan x="447.8" textLength="26.3" lengthAdjust="spacingAndGlyphs">on</tspan> <tspan x="481.3" textLength="127.6" lengthAdjust="spacingAndGlyphs">2024-06-01.</tspan> <tspan x="616.1" textLength="27.6" lengthAdjust="spacingAndGlyphs">All</tspan> <tspan x="650.4" textLength="118.2" lengthAdjust="spacingAndGlyphs">percentiles</tspan> <tspan x="775.8" textLength="39.4" lengthAdjust="spacingAndGlyphs">and</tspan> <tspan x="821.7" textLength="80.5" lengthAdjust="spacingAndGlyphs">metrics</tspan> <tspan x="909.5" textLength="33.4" lengthAdjust="spacingAndGlyphs">are</tspan> <tspan x="949.4" textLength="78.7" lengthAdjust="spacingAndGlyphs">relative</tspan> <tspan x="1034.7" textLength="21.1" lengthAdjust="spacingAndGlyphs">to</tspan> <tspan x="1062.8" textLength="25.1" lengthAdjust="spacingAndGlyphs">all</tspan> <tspan x="1094.6" textLength="76.8" lengthAdjust="spacingAndGlyphs">players</tspan> <tspan x="1178.4" textLength="18.9" lengthAdjust="spacingAndGlyphs">in</tspan> <tspan x="1204.2" textLength="33.8" lengthAdjust="spacingAndGlyphs">the</tspan> <tspan x="1244.6" textLength="34.5" lengthAdjust="spacingAndGlyphs">top</tspan> <tspan x="1286.9" textLength="12.6" lengthAdjust="spacingAndGlyphs">5</tspan> <tspan x="1305.8" textLength="100.4" lengthAdjust="spacingAndGlyphs">European</tspan> <tspan x="1413.1" textLength="90.6" lengthAdjust="spacingAndGlyphs">leagues.</tspan> <tspan x="1510.9" textLength="73.5" lengthAdjust="spacingAndGlyphs">Overall</tspan> <tspan x="1591.1" textLength="18.0" lengthAdjust="spacingAndGlyphs">is</tspan> <tspan x="1616.1" textLength="33.8" lengthAdjust="spacingAndGlyphs">the</tspan> <tspan x="1656.5" textLength="80.7" lengthAdjust="spacingAndGlyphs">player's</tspan> <tspan x="1744.3" textLength="97.5" lengthAdjust="spacingAndGlyphs">expected</tspan> <tspan x="1848.5" textLength="66.6" lengthAdjust="spacingAndGlyphs">points</tspan> <tspan x="1922.3" textLength="63.9" lengthAdjust="spacingAndGlyphs">above</tspan> <tspan x="1992.7" textLength="133.0" lengthAdjust="spacingAndGlyphs">replacement</tspan> <tspan x="2133.2" textLength="72.1" lengthAdjust="spacingAndGlyphs">(xPAR)</tspan> <tspan x="2211.9" textLength="113.2" lengthAdjust="spacingAndGlyphs">percentile.</tspan> <tspan x="2332.1" textLength="84.1" lengthAdjust="spacingAndGlyphs">Offense</tspan> <tspan x="2423.0" textLength="39.4" lengthAdjust="spacingAndGlyphs">and</tspan> <tspan x="2468.9" textLength="87.8" lengthAdjust="spacingAndGlyphs">Defense</tspan> <tspan x="2563.0" textLength="74.0" lengthAdjust="spacingAndGlyphs">Impact</tspan> <tspan x="2644.2" textLength="118.2" lengthAdjust="spacingAndGlyphs">percentiles</tspan> <tspan x="2769.6" textLength="39.4" lengthAdjust="spacingAndGlyphs">and</tspan> <tspan x="2815.8" textLength="94.0" lengthAdjust="spacingAndGlyphs">Z-Scores</tspan> <tspan x="2917.0" textLength="33.4" lengthAdjust="spacingAndGlyphs">are</tspan></text>
<text y="2070.2" font-size="29.25" fill="#000" font-style="italic" stroke="#000" stroke-width="0.28" ><tspan x="60.0" textLength="33.8" lengthAdjust="spacingAndGlyphs">the</tspan> <tspan x="100.4" textLength="80.7" lengthAdjust="spacingAndGlyphs">player's</tspan> <tspan x="188.1" textLength="85.7" lengthAdjust="spacingAndGlyphs">isolated</tspan> <tspan x="280.7" textLength="73.1" lengthAdjust="spacingAndGlyphs">impact</tspan> <tspan x="361.2" textLength="26.3" lengthAdjust="spacingAndGlyphs">on</tspan> <tspan x="394.5" textLength="41.1" lengthAdjust="spacingAndGlyphs">xGF</tspan> <tspan x="442.1" textLength="39.4" lengthAdjust="spacingAndGlyphs">and</tspan> <tspan x="488.4" textLength="42.8" lengthAdjust="spacingAndGlyphs">xGA</tspan> <tspan x="538.7" textLength="30.0" lengthAdjust="spacingAndGlyphs">(or</tspan> <tspan x="575.8" textLength="28.8" lengthAdjust="spacingAndGlyphs">GF</tspan> <tspan x="611.2" textLength="39.4" lengthAdjust="spacingAndGlyphs">and</tspan> <tspan x="657.6" textLength="39.9" lengthAdjust="spacingAndGlyphs">GA)</tspan> <tspan x="704.1" textLength="34.3" lengthAdjust="spacingAndGlyphs">per</tspan> <tspan x="746.4" textLength="31.5" lengthAdjust="spacingAndGlyphs">90,</tspan> <tspan x="784.0" textLength="114.2" lengthAdjust="spacingAndGlyphs">controlling</tspan> <tspan x="905.5" textLength="29.7" lengthAdjust="spacingAndGlyphs">for</tspan> <tspan x="942.0" textLength="127.4" lengthAdjust="spacingAndGlyphs">teammates,</tspan> <tspan x="1075.3" textLength="113.7" lengthAdjust="spacingAndGlyphs">opposition</tspan> <tspan x="1195.8" textLength="83.3" lengthAdjust="spacingAndGlyphs">players,</tspan> <tspan x="1284.8" textLength="112.9" lengthAdjust="spacingAndGlyphs">managers,</tspan> <tspan x="1404.1" textLength="65.0" lengthAdjust="spacingAndGlyphs">score,</tspan> <tspan x="1475.5" textLength="99.8" lengthAdjust="spacingAndGlyphs">situation,</tspan> <tspan x="1581.1" textLength="61.0" lengthAdjust="spacingAndGlyphs">etc...,</tspan> <tspan x="1648.3" textLength="69.9" lengthAdjust="spacingAndGlyphs">scaled</tspan> <tspan x="1724.8" textLength="78.7" lengthAdjust="spacingAndGlyphs">relative</tspan> <tspan x="1810.1" textLength="21.1" lengthAdjust="spacingAndGlyphs">to</tspan> <tspan x="1837.9" textLength="100.4" lengthAdjust="spacingAndGlyphs">European</tspan> <tspan x="1945.4" textLength="39.2" lengthAdjust="spacingAndGlyphs">Top</tspan> <tspan x="1991.9" textLength="12.6" lengthAdjust="spacingAndGlyphs">5</tspan> <tspan x="2010.8" textLength="78.1" lengthAdjust="spacingAndGlyphs">League</tspan> <tspan x="2095.7" textLength="90.6" lengthAdjust="spacingAndGlyphs">average.</tspan> <tspan x="2193.2" textLength="97.1" lengthAdjust="spacingAndGlyphs">Finishing</tspan> <tspan x="2297.4" textLength="30.0" lengthAdjust="spacingAndGlyphs">(or</tspan> <tspan x="2334.1" textLength="80.2" lengthAdjust="spacingAndGlyphs">Saving)</tspan> <tspan x="2420.6" textLength="74.0" lengthAdjust="spacingAndGlyphs">Impact</tspan> <tspan x="2501.7" textLength="118.2" lengthAdjust="spacingAndGlyphs">percentiles</tspan> <tspan x="2627.1" textLength="39.4" lengthAdjust="spacingAndGlyphs">and</tspan> <tspan x="2673.4" textLength="94.0" lengthAdjust="spacingAndGlyphs">Z-Scores</tspan> <tspan x="2774.5" textLength="33.4" lengthAdjust="spacingAndGlyphs">are</tspan> <tspan x="2814.6" textLength="33.8" lengthAdjust="spacingAndGlyphs">the</tspan> <tspan x="2855.0" textLength="80.7" lengthAdjust="spacingAndGlyphs">player's</tspan></text>
<text y="2110.3" font-size="29.25" fill="#000" font-style="italic" stroke="#000" stroke-width="0.28" ><tspan x="60.1" textLength="73.1" lengthAdjust="spacingAndGlyphs">impact</tspan> <tspan x="140.6" textLength="26.3" lengthAdjust="spacingAndGlyphs">on</tspan> <tspan x="174.3" textLength="46.0" lengthAdjust="spacingAndGlyphs">shot</tspan> <tspan x="227.7" textLength="33.6" lengthAdjust="spacingAndGlyphs">xG,</tspan> <tspan x="267.3" textLength="78.7" lengthAdjust="spacingAndGlyphs">relative</tspan> <tspan x="352.5" textLength="21.1" lengthAdjust="spacingAndGlyphs">to</tspan> <tspan x="380.4" textLength="100.4" lengthAdjust="spacingAndGlyphs">European</tspan> <tspan x="487.9" textLength="39.2" lengthAdjust="spacingAndGlyphs">Top</tspan> <tspan x="534.4" textLength="12.6" lengthAdjust="spacingAndGlyphs">5</tspan> <tspan x="553.2" textLength="78.1" lengthAdjust="spacingAndGlyphs">League</tspan> <tspan x="638.2" textLength="90.6" lengthAdjust="spacingAndGlyphs">average.</tspan> <tspan x="735.8" textLength="48.3" lengthAdjust="spacingAndGlyphs">Shot</tspan> <tspan x="791.6" textLength="30.0" lengthAdjust="spacingAndGlyphs">(or</tspan> <tspan x="828.5" textLength="36.3" lengthAdjust="spacingAndGlyphs">xG)</tspan> <tspan x="871.4" textLength="61.0" lengthAdjust="spacingAndGlyphs">Share</tspan> <tspan x="939.2" textLength="18.0" lengthAdjust="spacingAndGlyphs">is</tspan> <tspan x="964.2" textLength="33.8" lengthAdjust="spacingAndGlyphs">the</tspan> <tspan x="1005.2" textLength="58.8" lengthAdjust="spacingAndGlyphs">share</tspan> <tspan x="1070.6" textLength="21.9" lengthAdjust="spacingAndGlyphs">of</tspan> <tspan x="1099.3" textLength="33.8" lengthAdjust="spacingAndGlyphs">the</tspan> <tspan x="1139.7" textLength="68.5" lengthAdjust="spacingAndGlyphs">team's</tspan> <tspan x="1215.8" textLength="58.7" lengthAdjust="spacingAndGlyphs">shots</tspan> <tspan x="1281.8" textLength="30.0" lengthAdjust="spacingAndGlyphs">(or</tspan> <tspan x="1318.7" textLength="36.3" lengthAdjust="spacingAndGlyphs">xG)</tspan> <tspan x="1361.6" textLength="41.6" lengthAdjust="spacingAndGlyphs">that</tspan> <tspan x="1410.4" textLength="33.8" lengthAdjust="spacingAndGlyphs">the</tspan> <tspan x="1450.8" textLength="64.6" lengthAdjust="spacingAndGlyphs">player</tspan> <tspan x="1522.1" textLength="57.8" lengthAdjust="spacingAndGlyphs">takes</tspan> <tspan x="1587.6" textLength="55.7" lengthAdjust="spacingAndGlyphs">when</tspan> <tspan x="1650.4" textLength="26.3" lengthAdjust="spacingAndGlyphs">on</tspan> <tspan x="1683.5" textLength="33.8" lengthAdjust="spacingAndGlyphs">the</tspan> <tspan x="1724.1" textLength="52.7" lengthAdjust="spacingAndGlyphs">field.</tspan> <tspan x="1783.1" textLength="67.3" lengthAdjust="spacingAndGlyphs">Usage</tspan> <tspan x="1857.1" textLength="18.0" lengthAdjust="spacingAndGlyphs">is</tspan> <tspan x="1882.1" textLength="33.8" lengthAdjust="spacingAndGlyphs">the</tspan> <tspan x="1923.1" textLength="58.8" lengthAdjust="spacingAndGlyphs">share</tspan> <tspan x="1988.5" textLength="21.9" lengthAdjust="spacingAndGlyphs">of</tspan> <tspan x="2017.2" textLength="33.8" lengthAdjust="spacingAndGlyphs">the</tspan> <tspan x="2057.6" textLength="68.5" lengthAdjust="spacingAndGlyphs">team's</tspan> <tspan x="2133.4" textLength="28.0" lengthAdjust="spacingAndGlyphs">xG</tspan> <tspan x="2167.6" textLength="41.6" lengthAdjust="spacingAndGlyphs">that</tspan> <tspan x="2216.5" textLength="33.8" lengthAdjust="spacingAndGlyphs">the</tspan> <tspan x="2256.8" textLength="64.6" lengthAdjust="spacingAndGlyphs">player</tspan> <tspan x="2328.2" textLength="18.0" lengthAdjust="spacingAndGlyphs">is</tspan> <tspan x="2353.1" textLength="124.8" lengthAdjust="spacingAndGlyphs">responsible</tspan> <tspan x="2485.0" textLength="29.7" lengthAdjust="spacingAndGlyphs">for</tspan> <tspan x="2522.2" textLength="55.7" lengthAdjust="spacingAndGlyphs">when</tspan> <tspan x="2585.0" textLength="26.3" lengthAdjust="spacingAndGlyphs">on</tspan> <tspan x="2618.1" textLength="33.8" lengthAdjust="spacingAndGlyphs">the</tspan> <tspan x="2658.7" textLength="45.5" lengthAdjust="spacingAndGlyphs">field</tspan> <tspan x="2711.3" textLength="29.9" lengthAdjust="spacingAndGlyphs">via</tspan> <tspan x="2748.5" textLength="60.9" lengthAdjust="spacingAndGlyphs">either</tspan> <tspan x="2816.7" textLength="58.7" lengthAdjust="spacingAndGlyphs">shots</tspan> <tspan x="2882.5" textLength="21.6" lengthAdjust="spacingAndGlyphs">or</tspan> <tspan x="2911.3" textLength="46.0" lengthAdjust="spacingAndGlyphs">shot</tspan></text>
<text y="2150.4" font-size="29.25" fill="#000" font-style="italic" stroke="#000" stroke-width="0.28" ><tspan x="60.2" textLength="83.9" lengthAdjust="spacingAndGlyphs">assists.</tspan> <tspan x="150.6" textLength="103.8" lengthAdjust="spacingAndGlyphs">Individual</tspan> <tspan x="261.2" textLength="158.8" lengthAdjust="spacingAndGlyphs">characteristics</tspan> <tspan x="427.3" textLength="41.3" lengthAdjust="spacingAndGlyphs">(i.e.</tspan> <tspan x="475.5" textLength="93.7" lengthAdjust="spacingAndGlyphs">dribbling</tspan> <tspan x="576.2" textLength="39.4" lengthAdjust="spacingAndGlyphs">and</tspan> <tspan x="622.4" textLength="96.0" lengthAdjust="spacingAndGlyphs">creating)</tspan> <tspan x="725.1" textLength="33.4" lengthAdjust="spacingAndGlyphs">are</tspan> <tspan x="765.1" textLength="65.1" lengthAdjust="spacingAndGlyphs">based</tspan> <tspan x="837.1" textLength="26.3" lengthAdjust="spacingAndGlyphs">on</tspan> <tspan x="870.4" textLength="12.0" lengthAdjust="spacingAndGlyphs">a</tspan> <tspan x="889.8" textLength="156.2" lengthAdjust="spacingAndGlyphs">dimensionality</tspan> <tspan x="1052.9" textLength="101.1" lengthAdjust="spacingAndGlyphs">reduction</tspan> <tspan x="1160.9" textLength="21.9" lengthAdjust="spacingAndGlyphs">of</tspan> <tspan x="1189.7" textLength="51.0" lengthAdjust="spacingAndGlyphs">each</tspan> <tspan x="1247.5" textLength="80.7" lengthAdjust="spacingAndGlyphs">player's</tspan> <tspan x="1335.1" textLength="167.2" lengthAdjust="spacingAndGlyphs">micro-statistics</tspan> <tspan x="1509.5" textLength="41.3" lengthAdjust="spacingAndGlyphs">(i.e.</tspan> <tspan x="1558.2" textLength="55.0" lengthAdjust="spacingAndGlyphs">short</tspan> <tspan x="1620.4" textLength="50.9" lengthAdjust="spacingAndGlyphs">pass</tspan> <tspan x="1678.4" textLength="95.8" lengthAdjust="spacingAndGlyphs">attempts</tspan> <tspan x="1781.4" textLength="39.4" lengthAdjust="spacingAndGlyphs">and</tspan> <tspan x="1827.5" textLength="156.4" lengthAdjust="spacingAndGlyphs">interceptions).</tspan> <tspan x="1990.5" textLength="66.3" lengthAdjust="spacingAndGlyphs">Player</tspan> <tspan x="2063.5" textLength="57.5" lengthAdjust="spacingAndGlyphs">types</tspan> <tspan x="2128.3" textLength="41.3" lengthAdjust="spacingAndGlyphs">(i.e.</tspan> <tspan x="2176.4" textLength="122.4" lengthAdjust="spacingAndGlyphs">ball-playing</tspan> <tspan x="2305.7" textLength="103.6" lengthAdjust="spacingAndGlyphs">defender)</tspan> <tspan x="2416.1" textLength="33.4" lengthAdjust="spacingAndGlyphs">are</tspan> <tspan x="2456.2" textLength="65.1" lengthAdjust="spacingAndGlyphs">based</tspan> <tspan x="2528.1" textLength="26.3" lengthAdjust="spacingAndGlyphs">on</tspan> <tspan x="2561.5" textLength="12.0" lengthAdjust="spacingAndGlyphs">a</tspan> <tspan x="2580.8" textLength="106.0" lengthAdjust="spacingAndGlyphs">clustering</tspan> <tspan x="2693.9" textLength="87.3" lengthAdjust="spacingAndGlyphs">analysis</tspan> <tspan x="2788.3" textLength="21.9" lengthAdjust="spacingAndGlyphs">of</tspan> <tspan x="2817.2" textLength="56.1" lengthAdjust="spacingAndGlyphs">every</tspan> <tspan x="2880.1" textLength="80.7" lengthAdjust="spacingAndGlyphs">player's</tspan></text>
<text y="2190.5" font-size="29.25" fill="#000" font-style="italic" stroke="#000" stroke-width="0.28" ><tspan x="60.1" textLength="102.9" lengthAdjust="spacingAndGlyphs">individual</tspan> <tspan x="169.8" textLength="166.2" lengthAdjust="spacingAndGlyphs">characteristics.</tspan> <tspan x="342.7" textLength="66.3" lengthAdjust="spacingAndGlyphs">Player</tspan> <tspan x="416.3" textLength="97.6" lengthAdjust="spacingAndGlyphs">similarity</tspan> <tspan x="521.6" textLength="70.9" lengthAdjust="spacingAndGlyphs">scores</tspan> <tspan x="599.7" textLength="33.4" lengthAdjust="spacingAndGlyphs">are</tspan> <tspan x="639.7" textLength="65.1" lengthAdjust="spacingAndGlyphs">based</tspan> <tspan x="711.6" textLength="26.3" lengthAdjust="spacingAndGlyphs">on</tspan> <tspan x="744.7" textLength="33.8" lengthAdjust="spacingAndGlyphs">the</tspan> <tspan x="785.7" textLength="58.1" lengthAdjust="spacingAndGlyphs">same</tspan> <tspan x="850.6" textLength="106.0" lengthAdjust="spacingAndGlyphs">clustering</tspan> <tspan x="963.6" textLength="94.7" lengthAdjust="spacingAndGlyphs">analysis.</tspan></text>
</svg></body></html>
